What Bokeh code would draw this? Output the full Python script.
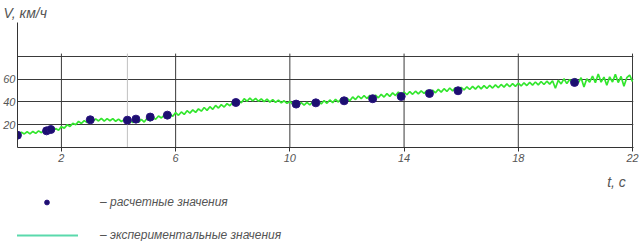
from bokeh.plotting import figure
from bokeh.layouts import column
from bokeh.models import FixedTicker, Label, Legend, LegendItem, Range1d, Title
from bokeh.embed import file_html
from bokeh.resources import INLINE

# ---- data ----
calc_t = [0.46, 1.48, 1.63, 3.01, 4.31, 4.61, 5.11, 5.71, 8.11, 10.22, 10.91,
          11.90, 12.90, 13.90, 14.89, 15.89, 19.97]
calc_v = [10.8, 14.6, 15.8, 24.3, 24.0, 24.9, 26.7, 28.4, 39.5, 38.1, 39.2,
          41.0, 42.8, 44.8, 47.4, 49.8, 57.1]

exp_v = [
    11.2, 13.4, 11.9, 13.8, 12.0,
    14.1, 12.4, 14.6, 13.0, 15.3, 13.9, 15.8, 14.6, 16.6, 15.2,
    18.3, 17.0, 19.9, 18.5, 21.2, 20.0, 22.9, 21.1, 23.6, 22.0,
    24.6, 22.6, 25.1, 23.3, 25.6, 23.2, 25.3, 23.5, 25.4, 23.0,
    24.9, 22.8, 24.5, 21.7, 24.0, 21.9, 24.3, 22.0, 24.6, 22.3,
    25.6, 23.4, 26.4, 24.8, 27.6, 25.9, 28.3, 26.5, 29.1, 27.4,
    30.6, 28.3, 31.2, 29.0, 32.3, 30.2, 33.0, 30.8, 33.9, 31.9,
    35.1, 32.6, 35.8, 33.5, 36.9, 34.6, 37.6, 35.5, 38.5, 36.6,
    39.7, 37.9, 41.4, 39.2, 42.8, 40.6, 43.3, 40.9, 43.1, 40.6,
    42.7, 40.3, 42.5, 39.8, 42.1, 39.6, 41.6, 39.1, 41.0, 38.7,
    40.4, 38.0, 39.9, 37.4, 39.4, 37.1, 39.6, 37.3, 40.0, 37.8,
    40.6, 38.2, 41.2, 38.8, 41.7, 39.4, 42.3, 39.9, 42.9, 40.5,
    43.3, 41.0, 44.4, 42.1, 45.2, 42.8, 45.6, 43.0, 45.8, 43.2,
    45.9, 43.6, 46.7, 44.3, 47.3, 44.9, 47.9, 45.6, 48.6, 46.1,
    48.7, 46.3, 49.1, 46.7, 49.4, 47.0, 49.7, 47.4, 50.1, 47.7,
    50.3, 48.0, 51.0, 48.6, 51.6, 49.2, 52.2, 49.7, 52.6, 50.0,
    52.8, 50.5, 53.3, 50.9, 53.6, 51.2, 54.0, 51.5, 54.3, 51.8,
    54.6, 52.2, 55.0, 52.6, 55.3, 53.0, 55.8, 53.3, 56.1, 53.6,
    56.4, 54.0, 56.8, 54.4, 57.1, 54.7, 57.5, 55.0, 57.9, 55.3,
    58.2, 55.6, 58.6, 52.0, 59.0, 55.8, 60.3, 56.1, 59.6, 56.4,
    60.5, 56.8, 61.2, 53.2, 60.4, 57.3, 62.6, 56.9, 64.5, 57.4,
    61.8, 54.6, 62.0, 57.5, 64.2, 57.0, 62.4, 53.8, 61.3, 63.6,
    57.8,
]
exp_t = [round(0.5 + 0.1 * i, 2) for i in range(len(exp_v))]

x_ticks = [2, 6, 10, 14, 18, 22]
y_ticks = [20, 40, 60, 80]
y_labels = {20: "20", 40: "40", 60: "60", 80: ""}
light_grid = [4.31]
grid_top = 82.4

legend_labels = ["– расчетные значения", "– экспериментальные значения"]

FONT = "Liberation Sans"
TXT = "#555555"

# ---------------- main chart ----------------
p = figure(width=643, height=170, output_backend="svg", toolbar_location=None,
           x_range=Range1d(0.462, 22.035), y_range=Range1d(0, 109.7),
           min_border_left=16, min_border_right=10, min_border_top=22,
           min_border_bottom=23)
p.outline_line_color = None
p.title = Title(text="V, км/ч", align="left", offset=-14, standoff=4,
                text_font=FONT, text_font_style="italic", text_font_size="14px",
                text_color=TXT)

xa = p.xaxis[0]
xa.ticker = FixedTicker(ticks=x_ticks)
xa.minor_tick_line_color = None
xa.major_tick_in = 0
xa.major_tick_out = 4
xa.major_tick_line_color = "#333333"
xa.axis_line_color = "#333333"
xa.major_label_standoff = 2
xa.major_label_text_font = FONT
xa.major_label_text_font_style = "italic"
xa.major_label_text_font_size = "11px"
xa.major_label_text_color = TXT

ya = p.yaxis[0]
ya.ticker = FixedTicker(ticks=y_ticks)
ya.major_label_overrides = y_labels
ya.minor_tick_line_color = None
ya.major_tick_in = 0
ya.major_tick_out = 0
ya.axis_line_color = "#333333"
ya.major_label_standoff = 2
ya.major_label_text_font = FONT
ya.major_label_text_font_style = "italic"
ya.major_label_text_font_size = "11px"
ya.major_label_text_color = TXT

p.xgrid.grid_line_color = None
p.ygrid.ticker = FixedTicker(ticks=y_ticks)
p.ygrid.grid_line_color = "#3a3a3a"
p.ygrid.grid_line_width = 1

p.segment(x0=x_ticks, y0=[0] * len(x_ticks), x1=x_ticks, y1=[grid_top] * len(x_ticks),
          line_color="#3a3a3a", line_width=1)
p.segment(x0=light_grid, y0=[0], x1=light_grid, y1=[grid_top],
          line_color="#c0c0c0", line_width=1)

p.line(exp_t, exp_v, line_color="#33e62e", line_width=1.7)
p.scatter(calc_t, calc_v, size=8, fill_color="#1c0f70", line_color="#2a1380")

# ---------------- legend strip ----------------
q = figure(width=643, height=71, output_backend="svg", toolbar_location=None,
           x_range=Range1d(0, 643), y_range=Range1d(0, 71),
           min_border=0, min_border_left=0, min_border_right=0,
           min_border_top=0, min_border_bottom=0)
q.axis.visible = False
q.grid.visible = False
q.outline_line_color = None

# off-screen dummies that only feed the legend swatches
dot_r = q.scatter([-100], [-100], size=7, fill_color="#1c0f70", line_color="#2a1380")
line_r = q.line([-100, -90], [-100, -100], line_color="#5ad9ac", line_width=2)

legend = Legend(items=[LegendItem(label=legend_labels[0], renderers=[dot_r]),
                       LegendItem(label=legend_labels[1], renderers=[line_r])],
                location=(-2, -1), orientation="vertical",
                glyph_width=63, glyph_height=12, spacing=19, label_standoff=22,
                label_height=12, padding=0, margin=0,
                border_line_color=None, background_fill_alpha=0,
                label_text_font=FONT, label_text_font_style="italic",
                label_text_font_size="12px", label_text_color=TXT)
q.add_layout(legend, "center")

q.add_layout(Label(x=635, y=60, text="t, с", text_font=FONT,
                   text_font_style="italic", text_font_size="14px",
                   text_color=TXT, text_baseline="middle", text_align="right"))

layout = column(p, q, spacing=0)
open("out.html", "w").write(file_html(layout, INLINE))
